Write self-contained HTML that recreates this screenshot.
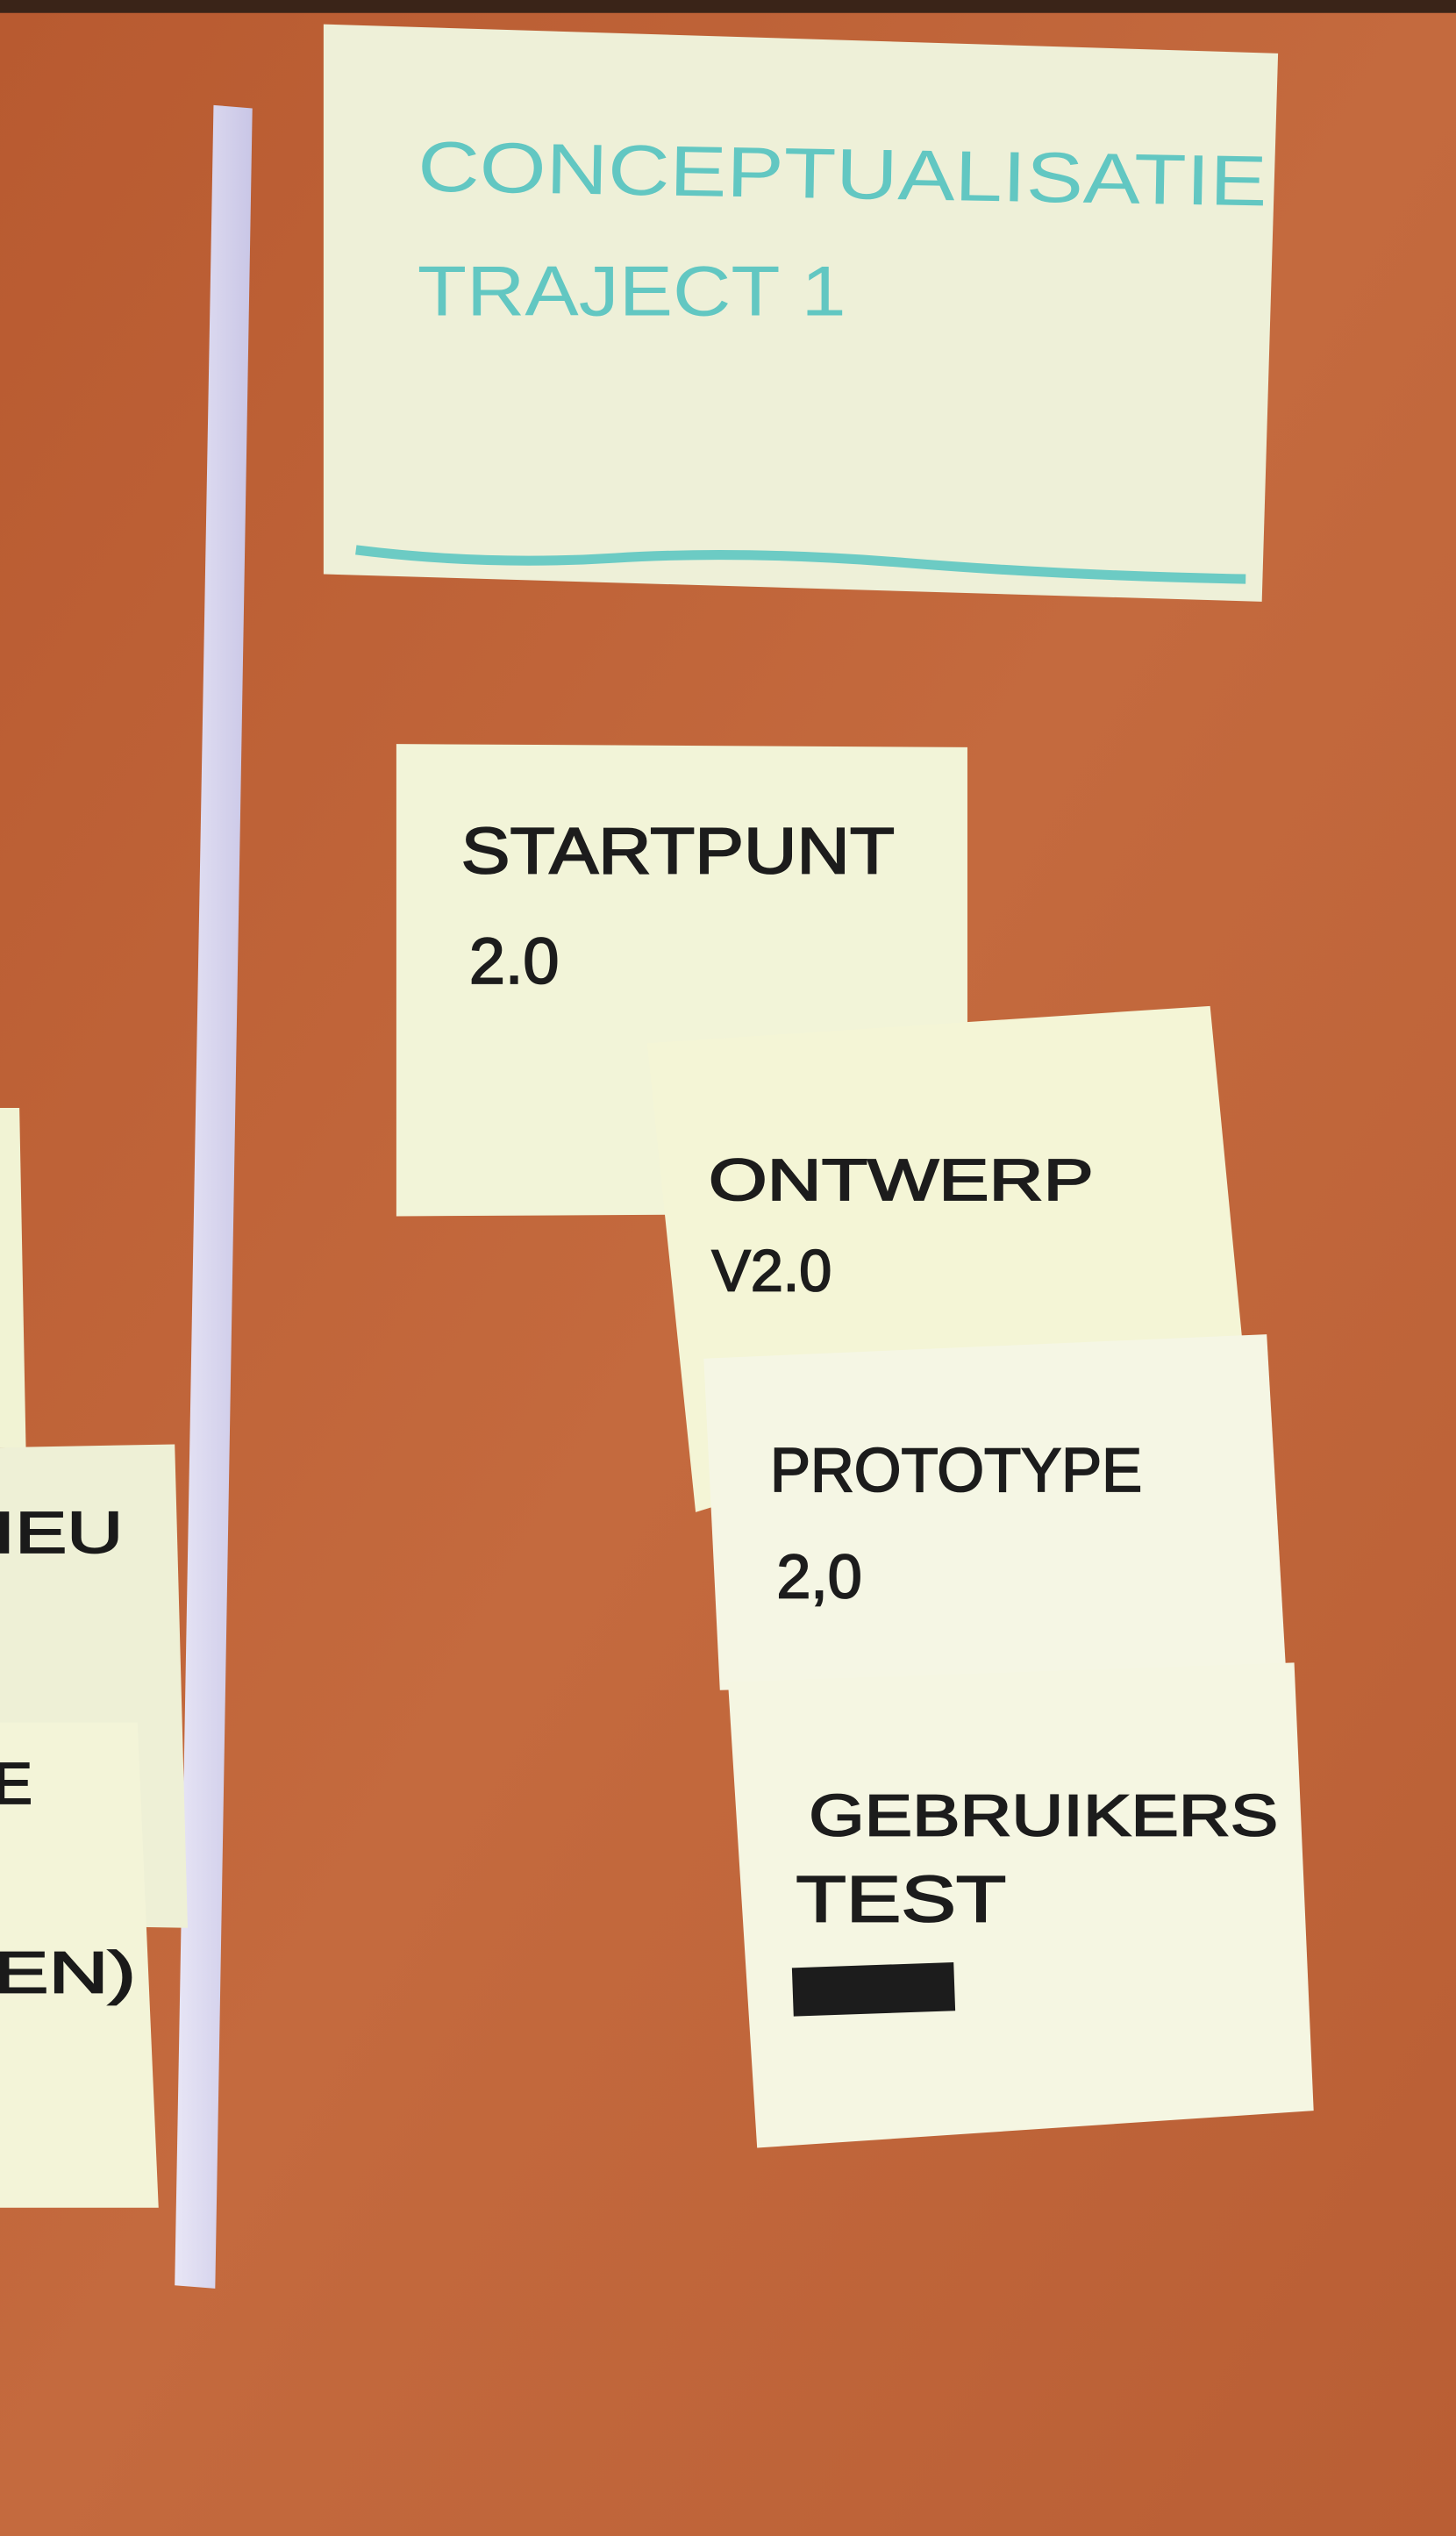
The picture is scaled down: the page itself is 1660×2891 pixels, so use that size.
<!DOCTYPE html>
<html><head><meta charset="utf-8"><style>
html,body{margin:0;padding:0;width:1660px;height:2891px;overflow:hidden;background:#bb6137}
svg{display:block}
text{font-family:"Liberation Sans",sans-serif;font-weight:normal}
</style></head><body>
<svg width="1660" height="2891" viewBox="0 0 900 1568" preserveAspectRatio="none" xmlns="http://www.w3.org/2000/svg">
<defs>
<linearGradient id="bg" x1="0" y1="0" x2="1" y2="1">
<stop offset="0" stop-color="#b85a30"/><stop offset="0.5" stop-color="#c46a3e"/><stop offset="1" stop-color="#b95e34"/>
</linearGradient>
<linearGradient id="strip" x1="0" y1="0" x2="1" y2="0">
<stop offset="0" stop-color="#e8e6f6"/><stop offset="1" stop-color="#c9c6e6"/>
</linearGradient>
</defs>
<rect width="900" height="1568" fill="url(#bg)"/>
<rect width="900" height="8" fill="#3a2418"/>
<polygon points="132,65 156,67 133,1415 108,1413" fill="url(#strip)"/>
<!-- top card -->
<polygon points="200,15 790,33 780,372 200,355" fill="#eef0d8"/>
<text x="258" y="118" font-size="44" fill="#62c7c2" textLength="525" lengthAdjust="spacingAndGlyphs" transform="rotate(1 258 118)">CONCEPTUALISATIE</text>
<text x="258" y="195" font-size="44" fill="#62c7c2" textLength="265" lengthAdjust="spacingAndGlyphs">TRAJECT 1</text>
<path d="M220,340 Q300,350 380,345 T560,348 T770,358" stroke="#6ccbc4" stroke-width="6" fill="none"/>
<!-- left partial notes -->
<polygon points="0,685 12,685 16,895 0,895" fill="#f1f3d4"/>
<polygon points="0,895 108,893 116,1192 0,1190" fill="#eef0d6"/>
<g fill="#1a1a1a" stroke="#1a1a1a" stroke-width="1">
<text x="-4" y="960" font-size="36" textLength="80" lengthAdjust="spacingAndGlyphs">IEU</text>
</g>
<polygon points="0,1065 85,1065 98,1365 0,1365" fill="#f3f4d8"/>
<g fill="#1a1a1a" stroke="#1a1a1a" stroke-width="1">
<text x="-4" y="1115" font-size="36">E</text>
<text x="-4" y="1232" font-size="36" textLength="88" lengthAdjust="spacingAndGlyphs">EN)</text>
</g>
<!-- startpunt -->
<polygon points="245,460 598,462 598,750 245,752" fill="#f2f4d8"/>
<g fill="#1c1c1c" stroke="#1c1c1c" stroke-width="1">
<text x="285" y="540" font-size="40" textLength="268" lengthAdjust="spacingAndGlyphs">STARTPUNT</text>
<text x="290" y="608" font-size="40">2.0</text>
</g>
<!-- ontwerp -->
<polygon points="400,645 748,622 768,830 430,935" fill="#f4f5d6"/>
<g fill="#1c1c1c" stroke="#1c1c1c" stroke-width="1">
<text x="438" y="742" font-size="36" textLength="238" lengthAdjust="spacingAndGlyphs">ONTWERP</text>
<text x="440" y="798" font-size="36">V2.0</text>
</g>
<!-- prototype -->
<polygon points="435,840 783,825 795,1035 445,1045" fill="#f5f6e4"/>
<g fill="#1c1c1c" stroke="#1c1c1c" stroke-width="1">
<text x="476" y="922" font-size="38" textLength="230" lengthAdjust="spacingAndGlyphs">PROTOTYPE</text>
<text x="480" y="988" font-size="38">2,0</text>
</g>
<!-- gebruikers -->
<polygon points="450,1040 800,1028 812,1305 468,1328" fill="#f5f6e2"/>
<g fill="#1c1c1c" stroke="#1c1c1c" stroke-width="1">
<text x="500" y="1135" font-size="36" textLength="290" lengthAdjust="spacingAndGlyphs">GEBRUIKERS</text>
<text x="492" y="1188" font-size="40" textLength="130" lengthAdjust="spacingAndGlyphs">TEST</text>
</g>
<rect x="490" y="1215" width="100" height="30" fill="#1c1c1c" transform="rotate(-2 540 1230)"/>
</svg>
</body></html>
